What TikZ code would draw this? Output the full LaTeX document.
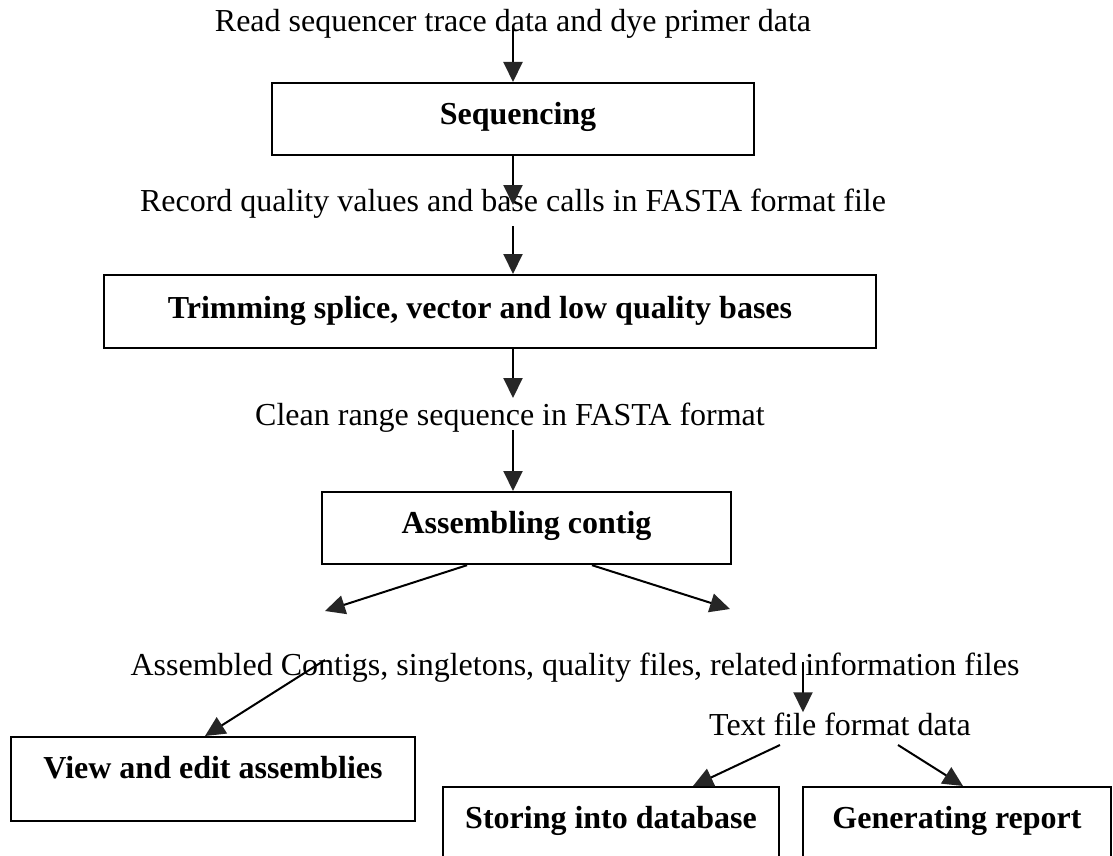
\documentclass[tikz,border=0pt]{standalone}
\usepackage{fontspec}
\setmainfont{Liberation Serif}
\usetikzlibrary{arrows.meta}
\begin{document}
\begin{tikzpicture}[x=1pt, y=-1pt,
  every node/.style={font=\fontsize{32}{38}\selectfont, inner sep=0pt},
  note/.style={anchor=base},
  stage/.style={draw, line width=2.2pt, anchor=north, inner sep=0pt,
    font=\fontsize{32}{38}\selectfont\bfseries},
  flow/.style={line width=2pt,
    -{Triangle[length=20pt, width=19pt, color=black!85]}}
]
  % page area
  \fill[white] (0,0) rectangle (1113,856);
  \clip (0,0) rectangle (1113,856);

  % texts and process boxes
  \node[note] (t1) at (513,32) {Read sequencer trace data and dye primer data};
  \node[stage, minimum width=482pt, text height=41pt, text depth=31pt]
    (seq) at (513,82) {\hspace*{10pt}Sequencing};
  \node[note] (t2) at (513,211) {Record quality values and base calls in FASTA format file};
  \node[stage, minimum width=772pt, text height=43pt, text depth=30pt]
    (trim) at (490,274) {Trimming splice, vector and low quality bases\hspace*{20pt}};
  \node[note] (t3) at (510,425) {Clean range sequence in FASTA format};
  \node[stage, minimum width=409pt, text height=41pt, text depth=31pt]
    (asm) at (526.5,491) {Assembling contig};
  \node[note] (t4) at (575,675) {Assembled Contigs, singletons, quality files, related information files};
  \node[stage, minimum width=404pt, text height=41pt, text depth=43pt]
    (view) at (213,736) {View and edit assemblies};
  \node[note] (t5) at (840,735) {Text file format data};
  \node[stage, minimum width=336pt, text height=41pt, text depth=90pt]
    (store) at (611,786) {Storing into database};
  \node[stage, minimum width=308pt, text height=41pt, text depth=90pt]
    (gen) at (957,786) {Generating report};

  % connector end points lying on the texts
  \coordinate (a1) at (513,28);
  \coordinate (a2) at (513,205);
  \coordinate (a3) at (513,226);
  \coordinate (a4) at (513,398);
  \coordinate (a5) at (513,430);
  \coordinate (a6) at (325,611);
  \coordinate (a7) at (730,609);
  \coordinate (b1) at (325,660);
  \coordinate (b2) at (803,662);
  \coordinate (b4) at (780,745);
  \coordinate (b5) at (898,745);

  % connectors
  \draw[flow] (a1) -- (seq.north);
  \draw[flow] (seq.south) -- (a2);
  \draw[flow] (a3) -- (a3 |- trim.north);
  \draw[flow] (a4 |- trim.south) -- (a4);
  \draw[flow] (a5) -- (a5 |- asm.north);
  \draw[flow] ([xshift=-59.5pt]asm.south) -- (a6);
  \draw[flow] ([xshift=65.5pt]asm.south) -- (a7);
  \draw[flow] (b1) -- ([xshift=-8pt]view.north);
  \draw[flow] (b2) -- (b2 |- t5.north);
  \draw[flow] (b4) -- ([xshift=82pt]store.north);
  \draw[flow] (b5) -- ([xshift=6pt]gen.north);
\end{tikzpicture}
\end{document}
